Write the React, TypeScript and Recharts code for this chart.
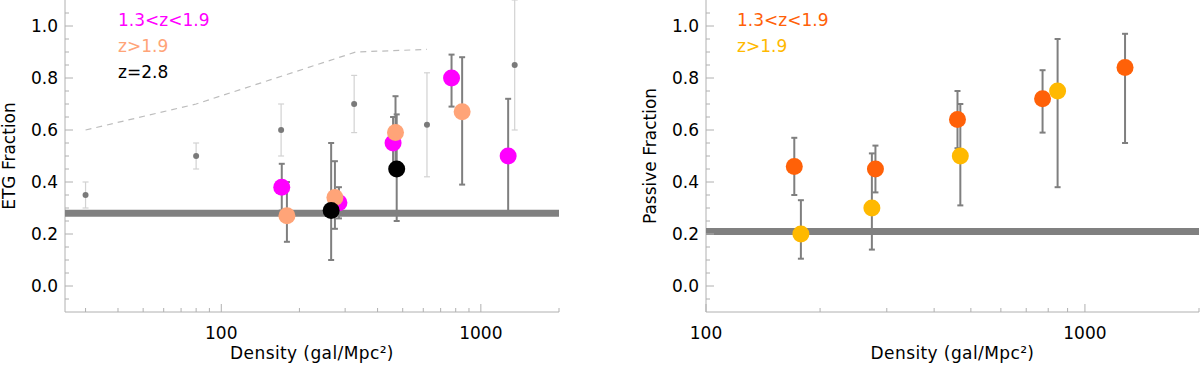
import { ScatterChart, Scatter, XAxis, YAxis, ErrorBar } from "recharts";

const FONT = "DejaVu Sans";
const FRAME = "#b0b0b0";
const BAR_GREY = "#7f7f7f";

// axis ticks
const Y_TICKS = [
  -0.05, 0, 0.05, 0.1, 0.15, 0.2, 0.25, 0.3, 0.35, 0.4, 0.45, 0.5, 0.55, 0.6,
  0.65, 0.7, 0.75, 0.8, 0.85, 0.9, 0.95, 1.0, 1.05,
];
const Y_LABELS = [0, 0.2, 0.4, 0.6, 0.8, 1.0];
const X_TICKS_ETG = [
  30, 40, 50, 60, 70, 80, 90, 100, 200, 300, 400, 500, 600, 700, 800, 900, 1000,
  2000,
];
const X_TICKS_PASSIVE = [
  100, 200, 300, 400, 500, 600, 700, 800, 900, 1000, 2000,
];
const X_LABELS = [100, 1000];

// ETG panel: comparison sample (small grey dots)
const GREY_DENS = [30, 80, 170, 325, 620, 1350];
const GREY_FRAC = [0.35, 0.5, 0.6, 0.7, 0.62, 0.85];
const GREY_ERR = [0.05, 0.05, 0.1, 0.11, 0.2, 0.25];

// ETG panel: dashed model curve
const DASH_DENS = [30, 80, 330, 620];
const DASH_FRAC = [0.6, 0.7, 0.9, 0.91];

// ETG panel: 1.3<z<1.9
const MAG_DENS = [171, 284, 459, 771, 1274];
const MAG_FRAC = [0.38, 0.32, 0.55, 0.8, 0.5];
const MAG_LO = [0.09, 0.06, 0.1, 0.11, 0.22];
const MAG_HI = [0.09, 0.06, 0.1, 0.09, 0.22];

// ETG panel: z>1.9
const SAL_DENS = [179, 274, 469, 847];
const SAL_FRAC = [0.27, 0.34, 0.59, 0.67];
const SAL_LO = [0.1, 0.12, 0.14, 0.28];
const SAL_HI = [0.13, 0.14, 0.14, 0.21];

// ETG panel: z=2.8
const BLK_DENS = [265, 474];
const BLK_FRAC = [0.29, 0.45];
const BLK_LO = [0.19, 0.2];
const BLK_HI = [0.26, 0.21];

// Passive panel
const ORG_DENS = [171, 280, 461, 773, 1276];
const ORG_FRAC = [0.46, 0.45, 0.64, 0.72, 0.84];
const ORG_LO = [0.11, 0.09, 0.11, 0.13, 0.29];
const ORG_HI = [0.11, 0.09, 0.11, 0.11, 0.13];

const YEL_DENS = [178, 274, 469, 847];
const YEL_FRAC = [0.2, 0.3, 0.5, 0.75];
const YEL_LO = [0.095, 0.16, 0.19, 0.37];
const YEL_HI = [0.13, 0.21, 0.2, 0.2];

// field levels (thick grey line)
const ETG_FIELD = 0.28;
const PASSIVE_FIELD = 0.21;

function toPoints(dens: number[], frac: number[], lo?: number[], hi?: number[]) {
  return dens.map((d, i) => ({
    x: d,
    y: frac[i],
    err: lo && hi ? [lo[i], hi[i]] : undefined,
  }));
}

function flatLine(xmin: number, xmax: number, level: number) {
  return [
    { x: xmin, y: level },
    { x: xmax, y: level },
  ];
}

function FrameTick(props: any) {
  const { x, y, payload, side, labels, fmt } = props;
  const v = payload.value;
  const major = labels.some((l: number) => Math.abs(l - v) < 1e-6);
  const len = major ? 8 : 4;
  const txt = { fontFamily: FONT, fontSize: 17, fill: "#000" };
  if (side === "left") {
    return (
      <g>
        <line x1={x} y1={y} x2={x + len} y2={y} stroke={FRAME} />
        {major && (
          <text x={x - 7} y={y + 6} textAnchor="end" {...txt}>
            {fmt(v)}
          </text>
        )}
      </g>
    );
  }
  if (side === "right") {
    return <line x1={x} y1={y} x2={x - len} y2={y} stroke={FRAME} />;
  }
  if (side === "top") {
    return <line x1={x} y1={y} x2={x} y2={y + len} stroke={FRAME} />;
  }
  return (
    <g>
      <line x1={x} y1={y} x2={x} y2={y - len} stroke={FRAME} />
      {major && (
        <text x={x} y={y + 27} textAnchor="middle" {...txt}>
          {fmt(v)}
        </text>
      )}
    </g>
  );
}

const dot = (r: number, fill: string) => (p: any) =>
  <circle cx={p.cx} cy={p.cy} r={r} fill={fill} />;
const noDot = () => <g />;

interface Series {
  data: { x: number; y: number; err?: number[] }[];
  color: string;
}

interface PanelProps {
  xDomain: [number, number];
  xTicks: number[];
  yAxisWidth: number;
  yTitle: string;
  yTitleOffset: number;
  field: number;
  dashed?: { x: number; y: number }[];
  grey?: { x: number; y: number; err?: number }[];
  series: Series[];
  marginRight: number;
}

function FractionPanel(p: PanelProps) {
  const yFmt = (v: number) => v.toFixed(1);
  const xFmt = (v: number) => String(v);
  return (
    <ScatterChart
      width={600}
      height={367}
      margin={{ top: 0, right: p.marginRight, bottom: 0, left: 0 }}
    >
      <XAxis
        type="number"
        dataKey="x"
        scale="log"
        domain={p.xDomain}
        allowDataOverflow
        ticks={p.xTicks}
        interval={0}
        height={55}
        tickSize={0}
        tickMargin={0}
        tickLine={false}
        axisLine={{ stroke: FRAME }}
        tick={(t: any) => (
          <FrameTick {...t} side="bottom" labels={X_LABELS} fmt={xFmt} />
        )}
        label={{
          value: "Density (gal/Mpc²)",
          position: "insideBottom",
          offset: 8,
          style: { fontFamily: FONT, fontSize: 17, fill: "#000", letterSpacing: 0.4 },
        }}
      />
      <XAxis
        xAxisId="top"
        orientation="top"
        type="number"
        scale="log"
        domain={p.xDomain}
        allowDataOverflow
        ticks={p.xTicks}
        interval={0}
        height={0}
        tickSize={0}
        tickMargin={0}
        tickLine={false}
        axisLine={{ stroke: FRAME }}
        tick={(t: any) => <FrameTick {...t} side="top" labels={X_LABELS} />}
      />
      <YAxis
        type="number"
        dataKey="y"
        domain={[-0.1, 1.1]}
        allowDataOverflow
        ticks={Y_TICKS}
        interval={0}
        width={p.yAxisWidth}
        tickSize={0}
        tickMargin={0}
        tickLine={false}
        axisLine={{ stroke: FRAME }}
        tick={(t: any) => (
          <FrameTick {...t} side="left" labels={Y_LABELS} fmt={yFmt} />
        )}
        label={{
          value: p.yTitle,
          angle: -90,
          position: "insideLeft",
          offset: p.yTitleOffset,
          style: { fontFamily: FONT, fontSize: 17, fill: "#000", textAnchor: "middle" },
        }}
      />
      <YAxis
        yAxisId="right"
        orientation="right"
        type="number"
        domain={[-0.1, 1.1]}
        allowDataOverflow
        ticks={Y_TICKS}
        interval={0}
        width={0}
        tickSize={0}
        tickMargin={0}
        tickLine={false}
        axisLine={{ stroke: FRAME }}
        tick={(t: any) => <FrameTick {...t} side="right" labels={Y_LABELS} />}
      />

      <Scatter
        data={flatLine(p.xDomain[0], p.xDomain[1], p.field)}
        line={{ stroke: "#808080", strokeWidth: 7 }}
        shape={noDot}
        isAnimationActive={false}
      />
      {p.dashed && (
        <Scatter
          data={p.dashed}
          line={{ stroke: "#bdbdbd", strokeWidth: 1.2, strokeDasharray: "6 5" }}
          shape={noDot}
          isAnimationActive={false}
        />
      )}
      {p.grey && (
        <Scatter data={p.grey} shape={dot(3, "#7a7a7a")} isAnimationActive={false}>
          <ErrorBar dataKey="err" direction="y" width={3} stroke="#d2d2d2" strokeWidth={1.2} />
        </Scatter>
      )}
      {p.series.map((s, i) => (
        <Scatter
          key={i}
          data={s.data}
          shape={dot(8.5, s.color)}
          isAnimationActive={false}
        >
          <ErrorBar dataKey="err" direction="y" width={3} stroke={BAR_GREY} strokeWidth={2} />
        </Scatter>
      ))}
    </ScatterChart>
  );
}

const legendStyle = (color: string, left: number, top: number): React.CSSProperties => ({
  position: "absolute",
  left,
  top,
  color,
  fontFamily: FONT,
  fontSize: 17,
  lineHeight: "17px",
  whiteSpace: "nowrap",
});

export default function App() {
  const grey = GREY_DENS.map((d, i) => ({ x: d, y: GREY_FRAC[i], err: GREY_ERR[i] }));
  const dashed = DASH_DENS.map((d, i) => ({ x: d, y: DASH_FRAC[i] }));
  return (
    <div
      style={{
        position: "absolute",
        left: 0,
        top: 0,
        width: 1200,
        height: 367,
        background: "#fff",
        overflow: "hidden",
      }}
    >
      <div style={{ position: "absolute", left: 0, top: 0 }}>
        <FractionPanel
          xDomain={[25, 2000]}
          xTicks={X_TICKS_ETG}
          yAxisWidth={65}
          yTitle="ETG Fraction"
          yTitleOffset={9}
          field={ETG_FIELD}
          dashed={dashed}
          grey={grey}
          marginRight={41}
          series={[
            { data: toPoints(MAG_DENS, MAG_FRAC, MAG_LO, MAG_HI), color: "#ff00ff" },
            { data: toPoints(SAL_DENS, SAL_FRAC, SAL_LO, SAL_HI), color: "#ffa478" },
            { data: toPoints(BLK_DENS, BLK_FRAC, BLK_LO, BLK_HI), color: "#000000" },
          ]}
        />
      </div>
      <div style={{ position: "absolute", left: 600, top: 0 }}>
        <FractionPanel
          xDomain={[100, 2000]}
          xTicks={X_TICKS_PASSIVE}
          yAxisWidth={106}
          yTitle="Passive Fraction"
          yTitleOffset={50}
          field={PASSIVE_FIELD}
          marginRight={1}
          series={[
            { data: toPoints(ORG_DENS, ORG_FRAC, ORG_LO, ORG_HI), color: "#ff6108" },
            { data: toPoints(YEL_DENS, YEL_FRAC, YEL_LO, YEL_HI), color: "#ffb900" },
          ]}
        />
      </div>
      <div style={legendStyle("#ff00ff", 118, 12)}>1.3&lt;z&lt;1.9</div>
      <div style={legendStyle("#ffa478", 118, 38)}>z&gt;1.9</div>
      <div style={legendStyle("#000000", 118, 64)}>z=2.8</div>
      <div style={legendStyle("#ff6108", 737, 12)}>1.3&lt;z&lt;1.9</div>
      <div style={legendStyle("#ffb900", 737, 38)}>z&gt;1.9</div>
    </div>
  );
}
